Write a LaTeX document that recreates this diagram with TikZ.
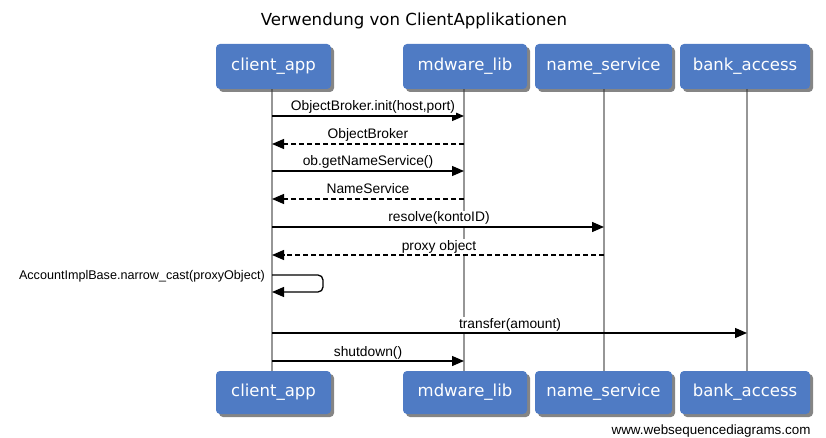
\documentclass[tikz,border=0pt]{standalone}
\usepackage{fontspec}
\setmainfont{DejaVu Sans}
\newfontfamily\msgfont{Liberation Sans}
\usetikzlibrary{arrows.meta,shadows}
\definecolor{boxblue}{RGB}{79,123,196}
\definecolor{lifegray}{RGB}{150,150,150}
\tikzset{
  actor/.style={draw=none, fill=boxblue, rounded corners=4pt, text=white, font=\fontsize{16.5}{18}\selectfont,
    general shadow={shadow xshift=3pt, shadow yshift=-3pt, opacity=0.6, fill=black!80, rounded corners=4pt}},
  lifeline/.style={draw=lifegray, line width=1.6pt},
  call/.style={draw=black, line width=1.3pt, -{Triangle[length=12pt,width=10pt]}},
  ret/.style={call, dash pattern=on 5pt off 3pt},
  msg/.style={font=\msgfont\fontsize{13.8}{15}\selectfont, fill=white, inner sep=1pt, anchor=base},
}
\begin{document}
\begin{tikzpicture}[x=1pt,y=-1pt]
\useasboundingbox (0,0) rectangle (826,438);
% lifeline coordinates
\coordinate (cT) at (272,89); \coordinate (cB) at (272,371);
\coordinate (mT) at (464,89); \coordinate (mB) at (464,371);
\coordinate (nT) at (604,89); \coordinate (nB) at (604,371);
\coordinate (bT) at (747,89); \coordinate (bB) at (747,371);
\draw[lifeline] (cT) -- (cB);
\draw[lifeline] (mT) -- (mB);
\draw[lifeline] (nT) -- (nB);
\draw[lifeline] (bT) -- (bB);

\node[font=\fontsize{16.6}{18}\selectfont] (title) at (414,21) {Verwendung von ClientApplikationen};

% top actors
\node[actor, minimum width=115pt, minimum height=45pt] (ca1) at (273.5,66.5) {client\_app};
\node[actor, minimum width=124pt, minimum height=45pt] (ml1) at (465,66.5) {mdware\_lib};
\node[actor, minimum width=137pt, minimum height=45pt] (ns1) at (603.5,66.5) {name\_service};
\node[actor, minimum width=130pt, minimum height=45pt] (ba1) at (745,66.5) {bank\_access};
% bottom actors
\node[actor, minimum width=115pt, minimum height=43pt] (ca2) at (273.5,392.5) {client\_app};
\node[actor, minimum width=124pt, minimum height=43pt] (ml2) at (465,392.5) {mdware\_lib};
\node[actor, minimum width=137pt, minimum height=43pt] (ns2) at (603.5,392.5) {name\_service};
\node[actor, minimum width=130pt, minimum height=43pt] (ba2) at (745,392.5) {bank\_access};

% message end points
\coordinate (c1) at (272,116); \coordinate (m1) at (464,116);
\coordinate (c2) at (272,144); \coordinate (m2) at (464,144);
\coordinate (c3) at (272,171); \coordinate (m3) at (464,171);
\coordinate (c4) at (272,199); \coordinate (m4) at (464,199);
\coordinate (c5) at (272,227); \coordinate (n5) at (604,227);
\coordinate (c6) at (272,255); \coordinate (n6) at (604,255);
\coordinate (c7a) at (272,275); \coordinate (c7b) at (272,292);
\coordinate (c8) at (272,333); \coordinate (b8) at (747,333);
\coordinate (c9) at (272,361); \coordinate (m9) at (464,361);

\draw[call] (c1) -- (m1);
\node[msg] (l1) at (373,111) {ObjectBroker.init(host,port)};
\draw[ret] (m2) -- (c2);
\node[msg] (l2) at (368,139) {ObjectBroker};
\draw[call] (c3) -- (m3);
\node[msg] (l3) at (368,166) {ob.getNameService()};
\draw[ret] (m4) -- (c4);
\node[msg] (l4) at (368,194) {NameService};
\draw[call] (c5) -- (n5);
\node[msg] (l5) at (439,222) {resolve(kontoID)};
\draw[ret] (n6) -- (c6);
\node[msg] (l6) at (439,250) {proxy object};
\draw[call, rounded corners=5pt] (c7a) -- (323,275) -- (323,292) -- (c7b);
\node[msg, font=\msgfont\fontsize{12.6}{14}\selectfont, anchor=base east] (l7) at (266,279) {AccountImplBase.narrow\_cast(proxyObject)};
\draw[call] (c8) -- (b8);
\node[msg] (l8) at (510,328) {transfer(amount)};
\draw[call] (c9) -- (m9);
\node[msg] (l9) at (368,356) {shutdown()};

\node[font=\msgfont\fontsize{13.4}{15}\selectfont, anchor=base east] (foot) at (814,434) {www.websequencediagrams.com};
\end{tikzpicture}
\end{document}
